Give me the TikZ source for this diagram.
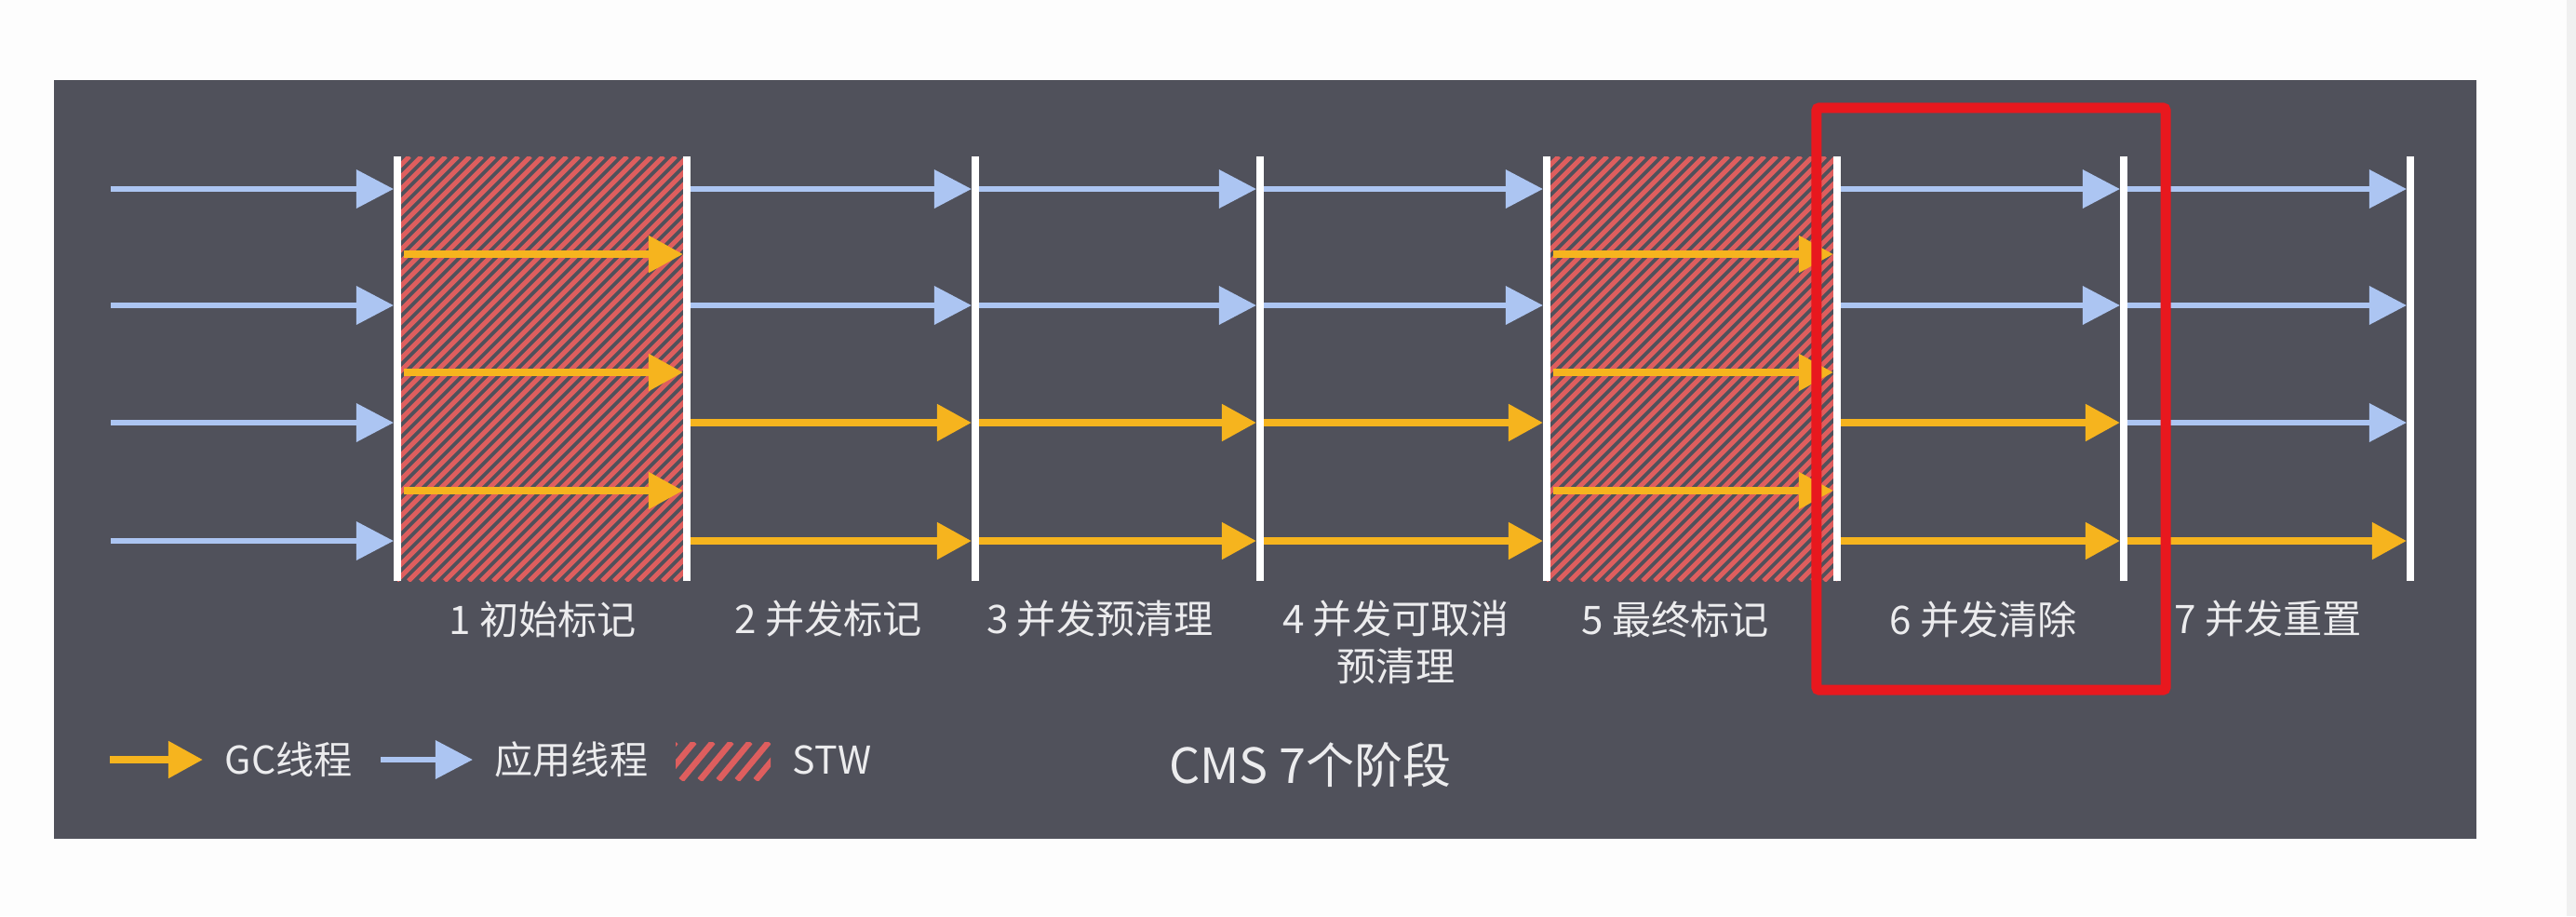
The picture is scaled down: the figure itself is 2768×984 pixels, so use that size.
\documentclass[tikz,border=0pt]{standalone}
\usepackage{fontspec}
\setmainfont{Noto Sans CJK SC}
\usetikzlibrary{arrows.meta}
\definecolor{pagewhite}{RGB}{253,253,253}
\definecolor{scrollgray}{RGB}{240,240,240}
\definecolor{bgdark}{RGB}{80,81,91}
\definecolor{appblue}{RGB}{172,197,242}
\definecolor{gcorange}{RGB}{246,180,30}
\definecolor{hatchred}{RGB}{222,94,94}
\definecolor{boxred}{RGB}{232,24,30}
\definecolor{txt}{RGB}{236,236,238}
\begin{document}
\begin{tikzpicture}[x=0.01cm,y=-0.01cm,
  app/.style={draw=appblue, line width=0.065cm, -{Triangle[length=0.4cm,width=0.4cm]}, shorten >=0.04cm},
  gc/.style={draw=gcorange, line width=0.08cm, -{Triangle[length=0.37cm,width=0.38cm]}, shorten >=0.04cm},
  vline/.style={draw=white, line width=0.08cm},
  stripe/.style={draw=hatchred, line width=0.05cm},
  lab/.style={text=txt, inner sep=0pt, font=\fontsize{12pt}{14.5pt}\selectfont, align=center},
  legtext/.style={text=txt, inner sep=0pt, anchor=west, font=\fontsize{11.7pt}{14pt}\selectfont}]
% page and panel
\fill[pagewhite] (0,0) rectangle (2768,984);
\fill[scrollgray] (2758,0) rectangle (2768,984);
\useasboundingbox (0,0) rectangle (2768,984);
\fill[bgdark] (58,86) rectangle (2661,901);
% coordinates
\foreach \n/\x in {0/427,1/738,2/1048,3/1354,4/1662,5/1974,6/2282,7/2590} {
  \coordinate (T\n) at (\x,168);
  \coordinate (B\n) at (\x,624);
  \foreach \r/\y in {1/203,2/328,3/454,4/581,a/273,b/400,c/527} {
    \coordinate (P\n-\r) at (\x,\y);
  }
}
\foreach \r/\y in {1/203,2/328,3/454,4/581} { \coordinate (S-\r) at (119,\y); }
% STW hatching
\begin{scope}
  \clip (427,168) rectangle (738,624);
  \foreach \k in {0,...,60} { \draw[stripe] (427-456+\k*13,624) -- ++(456,-456); }
\end{scope}
\begin{scope}
  \clip (1662,168) rectangle (1974,624);
  \foreach \k in {0,...,60} { \draw[stripe] (1662-456+\k*13,624) -- ++(456,-456); }
\end{scope}
% column 0: application threads
\foreach \r in {1,2,3,4} { \draw[app] (S-\r) -- (P0-\r); }
% column 1 and 5: GC threads during STW
\foreach \r in {a,b,c} {
  \draw[gc, shorten <=0.07cm] (P0-\r) -- (P1-\r);
  \draw[gc, shorten <=0.07cm] (P4-\r) -- (P5-\r);
}
% concurrent columns
\foreach \a/\b in {1/2,2/3,3/4,5/6} {
  \draw[app] (P\a-1) -- (P\b-1);
  \draw[app] (P\a-2) -- (P\b-2);
  \draw[gc] (P\a-3) -- (P\b-3);
  \draw[gc] (P\a-4) -- (P\b-4);
}
\draw[app] (P6-1) -- (P7-1);
\draw[app] (P6-2) -- (P7-2);
\draw[app] (P6-3) -- (P7-3);
\draw[gc] (P6-4) -- (P7-4);
% phase boundaries
\foreach \n in {0,...,7} { \draw[vline] (T\n) -- (B\n); }
% phase labels
\node[lab] (l1) at (583,665) {1 初始标记};
\node[lab] (l2) at (890,665) {2 并发标记};
\node[lab] (l3) at (1182,665) {3 并发预清理};
\node[lab] (l4) at (1500,690) {4 并发可取消\\预清理};
\node[lab] (l5) at (1800,665) {5 最终标记};
\node[lab] (l6) at (2131,665) {6 并发清除};
\node[lab] (l7) at (2437,665) {7 并发重置};
% highlight box
\node[draw=boxred, line width=0.11cm, rounded corners=0.03cm, minimum width=3.75cm, minimum height=6.25cm, inner sep=0pt] (hl) at (2139.5,428.5) {};
% legend
\coordinate (ga) at (118,816);
\coordinate (gb) at (218,816);
\draw[gc, shorten >=0pt] (ga) -- (gb);
\node[legtext] (gct) at (241,816) {GC线程};
\coordinate (aa) at (409,816);
\coordinate (ab) at (508,816);
\draw[app, shorten >=0pt] (aa) -- (ab);
\node[legtext] (appt) at (531,816) {应用线程};
\begin{scope}
  \clip (726,797) rectangle (828,838);
  \foreach \k in {0,...,8} { \draw[draw=hatchred, line width=0.065cm] (726-34+\k*20,838) -- ++(34,-41); }
\end{scope}
\node[legtext] (stwt) at (851,816) {STW};
\node[text=txt, inner sep=0pt, font=\fontsize{14.8pt}{17pt}\selectfont] (title) at (1408,822) {CMS 7个阶段};
\end{tikzpicture}
\end{document}
